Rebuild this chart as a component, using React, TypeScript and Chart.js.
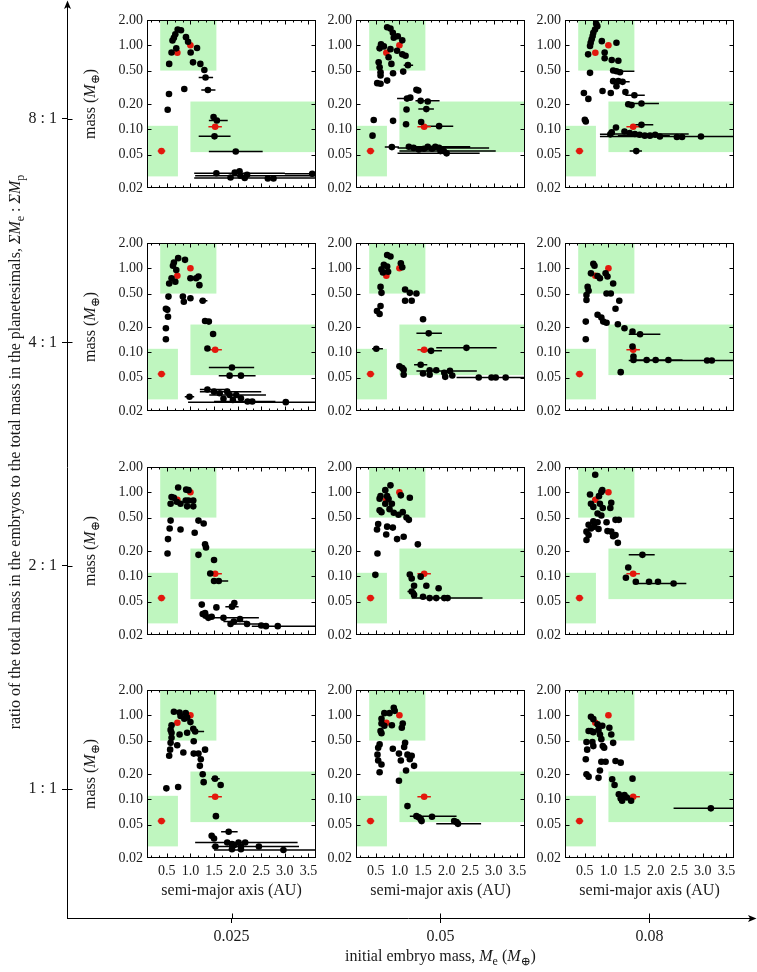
import React, { useEffect, useRef } from "react";
import { Chart, registerables } from "chart.js";

Chart.register(...registerables);

const FONT = "'Liberation Serif', 'Times New Roman', 'DejaVu Serif', serif";
const TEXT = "#1a1a1a";
const GREEN = "#bff6bf";
const RED = "#e3170d";

// ---------- outer axes ----------
const ratioLabels = ["1 : 1", "2 : 1", "4 : 1", "8 : 1"];
const embryoMassLabels = ["0.025", "0.05", "0.08"];

// ---------- panel axes ----------
const massTicks = [0.02, 0.05, 0.1, 0.2, 0.5, 1, 2];
const semiMajorTicks = [0.5, 1, 1.5, 2, 2.5, 3, 3.5];
const semiMajorMin = 0.08;
const semiMajorMax = 3.66;
const massMin = 0.02;
const massMax = 2;

// solar-system planets: [a, mass, perihelion, aphelion]
const solarSystem = [
  [0.387, 0.055, 0.307, 0.467],
  [0.723, 0.815],
  [1.0, 1.0],
  [1.524, 0.107, 1.381, 1.666],
];

// target regions: [aMin, aMax, mMin, mMax]  (null = axis edge)
const regionMercury = [null, 0.735, 0.0275, 0.11];
const regionVenusEarth = [0.36, 1.55, 0.5, 2];
const regionMars = [1.0, null, 0.0535, 0.214];

// simulated planets: [a, mass, aMin, aMax]
const run8_025 = [
  [0.73, 1.54], [0.8, 1.51], [0.68, 1.35], [0.65, 1.23], [0.62, 1.14], [0.906, 1.25], [0.95, 1.1],
  [0.7, 0.92], [0.6, 0.82], [1.005, 0.82], [1.14, 0.93], [0.55, 0.6], [1.055, 0.626], [1.21, 0.6],
  [1.295, 0.508], [1.32, 0.413, 1.175, 1.48], [1.37, 0.294, 1.23, 1.53], [0.87, 0.302], [0.546, 0.263],
  [0.518, 0.171], [1.49, 0.14], [1.56, 0.127, 1.39, 1.79], [1.51, 0.0824, 1.175, 1.85],
  [1.96, 0.0544, 1.39, 2.53], [1.55, 0.03, 1.08, 3.0], [1.85, 0.0267], [1.94, 0.0306], [2.04, 0.0317],
  [2.06, 0.028, 1.1, 3.66], [2.15, 0.0263, 1.08, 3.66], [2.2, 0.0288], [2.64, 0.026], [2.76, 0.026],
  [3.58, 0.0296, 3.0, 3.66],
];
const run8_05 = [
  [0.74, 1.64], [0.81, 1.58], [0.86, 1.41], [0.965, 1.28], [1.06, 1.145], [0.88, 1.23], [0.61, 1.03],
  [0.67, 0.97], [0.58, 0.92], [0.81, 0.9], [0.95, 0.86], [1.06, 0.78], [1.13, 0.75], [0.77, 0.72],
  [0.56, 0.626], [0.83, 0.6], [1.18, 0.58, 1.09, 1.29], [0.58, 0.547], [0.6, 0.477], [0.865, 0.465],
  [1.08, 0.486], [0.6, 0.436], [0.53, 0.354], [0.6, 0.348], [0.74, 0.38], [1.36, 0.296], [1.4, 0.29],
  [1.16, 0.232, 0.95, 1.29], [1.23, 0.238], [1.45, 0.218, 1.34, 1.85], [1.6, 0.214], [1.15, 0.172],
  [1.57, 0.174, 1.4, 1.73], [0.455, 0.129], [0.865, 0.126], [1.46, 0.122], [1.14, 0.115],
  [1.84, 0.109, 1.52, 2.14], [0.43, 0.084], [0.84, 0.0614, 0.69, 0.99], [1.2, 0.062],
  [1.3, 0.06, 0.96, 2.9], [1.41, 0.0574], [1.52, 0.0586], [1.6, 0.0618, 1.2, 2.5], [1.69, 0.0586],
  [1.76, 0.0618], [1.84, 0.06], [1.87, 0.055, 1.0, 3.04], [1.94, 0.055], [2.0, 0.0517, 0.96, 2.7],
];
const run8_08 = [
  [0.74, 1.8], [0.765, 1.69], [0.716, 1.54], [0.68, 1.41], [0.666, 1.29], [0.645, 1.18], [0.624, 1.07],
  [0.61, 0.98], [0.86, 1.12], [1.17, 1.07], [0.57, 0.78], [0.92, 0.82], [0.92, 0.7], [1.07, 0.667],
  [1.21, 0.655], [1.1, 0.5], [1.17, 0.49, 1.1, 1.55], [1.245, 0.477], [0.61, 0.47], [1.1, 0.374],
  [1.21, 0.374], [1.3, 0.367, 1.24, 1.45], [1.17, 0.325], [0.48, 0.27], [0.575, 0.23], [0.875, 0.286],
  [1.05, 0.27], [1.36, 0.278], [1.55, 0.254, 1.36, 1.77], [1.42, 0.199], [1.49, 0.194],
  [1.7, 0.203, 1.45, 2.07], [0.52, 0.124], [0.5, 0.13], [1.7, 0.113, 1.56, 1.95], [1.16, 0.105],
  [1.07, 0.092], [1.04, 0.087, 0.82, 1.13], [1.34, 0.094], [1.45, 0.09], [1.56, 0.088, 1.0, 2.7],
  [1.66, 0.086], [1.77, 0.084, 1.2, 2.3], [1.88, 0.084], [1.99, 0.086], [2.09, 0.082], [2.45, 0.081],
  [2.56, 0.081], [2.96, 0.082, 0.82, 3.66], [1.59, 0.055, 1.45, 1.71],
];
const run4_025 = [
  [0.74, 1.32], [0.885, 1.26], [0.65, 1.17], [0.63, 1.07], [0.7, 0.955], [0.6, 0.76], [0.55, 0.66],
  [0.68, 0.69], [1.0, 0.76], [1.17, 0.8], [1.12, 0.76], [1.19, 0.63], [0.535, 0.46], [0.84, 0.46],
  [0.86, 0.4], [1.0, 0.44], [1.26, 0.41, 1.19, 1.36], [0.48, 0.33], [0.51, 0.32], [0.525, 0.265],
  [1.31, 0.236], [1.39, 0.232], [1.48, 0.165], [0.48, 0.193], [0.48, 0.143], [1.36, 0.111],
  [1.88, 0.066, 1.39, 2.35], [1.83, 0.0527, 1.6, 2.38], [2.07, 0.0527], [0.98, 0.0296, 0.88, 1.08],
  [1.36, 0.036, 1.2, 1.8], [1.5, 0.034, 1.3, 2.2], [1.62, 0.0325], [1.78, 0.034, 1.2, 2.5], [1.83, 0.031],
  [1.97, 0.031, 1.4, 2.6], [2.07, 0.0284], [2.21, 0.026], [2.31, 0.026, 1.5, 2.8],
  [3.02, 0.0255, 0.95, 3.66], [1.7, 0.028], [1.9, 0.027],
];
const run4_05 = [
  [0.74, 1.44], [0.81, 1.38], [0.67, 1.1], [0.74, 1.05], [0.62, 0.97], [0.65, 0.89], [0.76, 0.91],
  [1.03, 1.15], [1.06, 1.03], [0.6, 0.6], [0.62, 0.51], [1.12, 0.56], [1.22, 0.51], [1.36, 0.5],
  [1.12, 0.41], [1.26, 0.41], [0.6, 0.356], [0.525, 0.31], [0.58, 0.286], [1.5, 0.247],
  [1.62, 0.168, 1.36, 1.9], [0.51, 0.11, 0.42, 0.65], [1.67, 0.104, 1.45, 1.9], [2.42, 0.113, 1.78, 3.06],
  [1.0, 0.068], [1.06, 0.065], [1.09, 0.062], [1.09, 0.054], [1.45, 0.071, 1.31, 1.59], [1.5, 0.056],
  [1.64, 0.054], [1.64, 0.061], [1.78, 0.061], [1.95, 0.057], [2.07, 0.06, 1.36, 2.64], [1.97, 0.051],
  [2.12, 0.053], [2.68, 0.05], [2.95, 0.05], [3.04, 0.05], [3.25, 0.05, 2.21, 3.66],
];
const run4_08 = [
  [0.68, 1.13], [0.705, 1.07], [0.63, 0.87], [0.77, 0.81], [0.82, 0.76], [0.94, 0.87], [0.98, 0.8],
  [1.1, 0.66], [0.56, 0.6], [0.58, 0.54], [0.96, 0.5], [1.05, 0.5], [0.535, 0.48], [0.535, 0.42],
  [1.23, 0.41], [1.15, 0.33], [0.77, 0.28], [0.85, 0.26], [0.89, 0.232], [0.96, 0.225], [0.52, 0.232],
  [0.52, 0.143], [1.2, 0.216], [1.34, 0.193], [1.51, 0.176], [1.67, 0.164, 1.43, 2.1], [1.51, 0.117],
  [1.53, 0.089], [1.26, 0.058], [1.53, 0.081], [1.81, 0.081], [2.0, 0.081], [2.27, 0.081, 1.53, 2.57],
  [3.09, 0.08], [3.19, 0.08, 1.43, 3.66],
];
const run2_025 = [
  [0.74, 1.14], [0.91, 1.075], [0.96, 1.06], [0.6, 0.88], [0.65, 0.86], [0.71, 0.77], [0.58, 0.73],
  [0.79, 0.73], [0.9, 0.8], [0.96, 0.8], [1.06, 0.8], [1.06, 0.68], [0.93, 0.68], [0.58, 0.46],
  [0.56, 0.37], [0.79, 0.36], [0.525, 0.277], [0.515, 0.187], [1.17, 0.46], [1.28, 0.425], [1.09, 0.33],
  [1.31, 0.24], [1.33, 0.22], [1.17, 0.18], [1.5, 0.156], [1.42, 0.108], [1.6, 0.088, 1.47, 1.8],
  [1.5, 0.088], [1.24, 0.046], [1.31, 0.0366], [1.26, 0.0355], [1.55, 0.0426], [1.88, 0.0435, 1.74, 2.02],
  [1.93, 0.048], [1.32, 0.034], [1.38, 0.032], [1.45, 0.033], [1.7, 0.032, 1.5, 2.45],
  [1.92, 0.029, 1.7, 2.2], [2.05, 0.031], [1.85, 0.027], [2.2, 0.027, 1.8, 2.6], [2.5, 0.026],
  [2.85, 0.0255, 2.3, 3.66], [2.6, 0.0255],
];
const run2_05 = [
  [0.81, 1.21], [0.7, 1.06], [0.6, 0.9], [0.58, 0.84], [0.74, 0.9], [0.77, 0.83], [0.7, 0.73], [0.84, 0.73],
  [1.03, 0.92], [1.22, 0.86], [0.58, 0.61], [0.62, 0.58], [0.79, 0.63], [0.88, 0.57], [0.98, 0.54],
  [1.07, 0.58], [1.15, 0.5], [1.2, 0.47], [0.55, 0.42], [0.525, 0.36], [0.74, 0.39], [0.86, 0.38],
  [0.72, 0.315], [0.95, 0.277], [1.09, 0.295], [1.39, 0.24], [0.535, 0.187], [0.49, 0.104], [1.22, 0.105],
  [1.26, 0.094], [1.45, 0.099], [1.31, 0.077], [1.57, 0.077], [1.83, 0.072], [1.26, 0.066, 1.17, 1.35],
  [1.31, 0.06], [1.5, 0.057], [1.64, 0.055], [1.78, 0.055], [1.95, 0.055], [2.02, 0.055, 1.26, 2.76],
];
const run2_08 = [
  [0.72, 1.62], [0.61, 0.94], [0.87, 1.06], [0.85, 1.01], [0.8, 0.9], [0.63, 0.73], [0.68, 0.67],
  [0.82, 0.73], [0.88, 0.65], [1.06, 0.75], [0.77, 0.56], [0.85, 0.53], [1.04, 0.65], [1.15, 0.47],
  [1.22, 0.47], [0.68, 0.45], [0.77, 0.44], [0.58, 0.41], [0.63, 0.37], [0.7, 0.39], [0.535, 0.34],
  [0.58, 0.31], [0.535, 0.27], [0.79, 0.365], [0.96, 0.44], [0.98, 0.345], [1.06, 0.34], [1.1, 0.3],
  [1.15, 0.31], [1.2, 0.25], [1.72, 0.18, 1.43, 1.98], [1.42, 0.127], [1.37, 0.096], [1.58, 0.086],
  [1.86, 0.086], [2.05, 0.086], [2.38, 0.082, 1.53, 2.65],
];
const run1_025 = [
  [0.65, 1.1], [0.77, 1.08], [0.79, 0.98], [0.9, 1.06], [0.93, 0.94], [0.87, 0.91], [1.0, 0.83],
  [0.6, 0.76], [0.58, 0.67], [0.6, 0.62], [0.77, 0.59], [0.93, 0.62], [1.06, 0.69], [1.1, 0.64, 1.03, 1.29],
  [0.72, 0.44], [0.6, 0.54], [0.58, 0.47], [0.57, 0.39], [0.55, 0.33], [0.85, 0.36], [1.07, 0.49],
  [1.07, 0.35], [1.17, 0.35], [1.31, 0.39], [1.22, 0.3], [1.2, 0.25], [1.26, 0.199], [1.28, 0.16],
  [1.52, 0.176, 1.44, 1.62], [1.64, 0.148], [0.49, 0.135], [0.74, 0.14], [1.54, 0.063],
  [1.81, 0.041, 1.65, 2.0], [1.45, 0.0367], [1.5, 0.0341], [1.53, 0.0274], [1.78, 0.0306, 1.1, 3.27],
  [1.88, 0.0293], [1.93, 0.0285], [2.02, 0.0306], [2.07, 0.0274], [2.16, 0.0306], [1.88, 0.0254],
  [2.07, 0.0254], [2.45, 0.0274, 1.45, 3.3], [2.97, 0.0249, 1.5, 3.66],
];
const run1_05 = [
  [0.88, 1.23], [0.68, 1.06], [0.79, 1.06], [0.9, 1.13], [0.62, 0.91], [0.62, 0.8], [0.68, 0.75],
  [0.84, 0.76], [1.07, 0.8], [1.05, 0.71], [0.6, 0.65], [0.62, 0.61], [1.12, 0.47], [1.1, 0.42],
  [0.58, 0.45], [0.55, 0.41], [0.86, 0.4], [0.99, 0.35], [0.535, 0.34], [0.55, 0.29], [0.62, 0.26],
  [0.58, 0.21], [1.03, 0.29], [1.17, 0.34], [1.26, 0.33], [1.22, 0.3], [1.31, 0.25], [1.14, 0.22],
  [0.99, 0.166], [1.17, 0.083], [1.36, 0.063, 1.22, 2.21], [1.41, 0.061], [1.45, 0.058], [1.47, 0.055],
  [1.69, 0.062], [2.16, 0.055], [2.21, 0.0535], [2.24, 0.051, 1.78, 2.73],
];
const run1_08 = [
  [0.63, 0.96], [0.68, 0.9], [0.77, 0.78], [0.87, 0.75], [0.58, 0.65], [0.63, 0.65], [0.68, 0.63],
  [0.79, 0.67], [0.82, 0.59], [1.02, 0.71], [1.06, 0.59], [0.535, 0.48], [0.55, 0.39], [0.66, 0.48],
  [0.68, 0.43], [0.88, 0.43], [0.91, 0.41], [1.1, 0.47], [0.85, 0.52], [0.52, 0.3], [0.535, 0.199],
  [0.58, 0.186], [0.79, 0.18], [0.82, 0.22], [0.85, 0.28], [0.94, 0.28], [1.15, 0.286], [1.26, 0.273],
  [1.08, 0.173], [1.13, 0.148], [1.22, 0.115], [1.26, 0.102], [1.29, 0.096], [1.34, 0.112], [1.39, 0.105],
  [1.51, 0.176], [1.48, 0.096], [3.17, 0.078, 2.38, 3.66],
];

// rows top->bottom: 8:1, 4:1, 2:1, 1:1 ; cols: 0.025, 0.05, 0.08
const panelRuns = [
  [run8_025, run8_05, run8_08],
  [run4_025, run4_05, run4_08],
  [run2_025, run2_05, run2_08],
  [run1_025, run1_05, run1_08],
];

// ---------- layout (pixels) ----------
const PLOT_X = [147, 356, 565];
const PLOT_Y = [20, 243, 467, 690];
const PLOT_W = 169;
const PLOT_H = 168;
const OUTER_LEFT = 67;
const OUTER_BOTTOM = 918;
const OUTER_TOP = 16;
const OUTER_RIGHT = 749;
const POINT_R = 3.3;

type Seg = { t: string; it?: boolean; sub?: boolean };

function drawRich(ctx: CanvasRenderingContext2D, segs: Seg[], cx: number, cy: number, size: number, rotate: boolean) {
  ctx.save();
  ctx.translate(cx, cy);
  if (rotate) ctx.rotate(-Math.PI / 2);
  const fontFor = (s: Seg) => `${s.it ? "italic " : ""}${s.sub ? Math.round(size * 0.72) : size}px ${FONT}`;
  let total = 0;
  const widths = segs.map((s) => {
    ctx.font = fontFor(s);
    const w = ctx.measureText(s.t).width;
    total += w;
    return w;
  });
  let x = -total / 2;
  ctx.textBaseline = "middle";
  ctx.textAlign = "left";
  ctx.fillStyle = TEXT;
  segs.forEach((s, i) => {
    ctx.font = fontFor(s);
    ctx.fillText(s.t, x, s.sub ? size * 0.3 : 0);
    x += widths[i];
  });
  ctx.restore();
}

function makePanelPlugin(row: number, col: number) {
  return {
    id: "panelDecor",
    beforeDatasetsDraw(chart: any) {
      const { ctx, chartArea: ca, scales } = chart;
      const xs = scales.x;
      const ys = scales.y;
      ctx.save();
      ctx.beginPath();
      ctx.rect(ca.left, ca.top, ca.right - ca.left, ca.bottom - ca.top);
      ctx.clip();
      ctx.fillStyle = GREEN;
      for (const r of [regionMercury, regionVenusEarth, regionMars]) {
        const x0 = r[0] == null ? ca.left : xs.getPixelForValue(r[0]);
        const x1 = r[1] == null ? ca.right : xs.getPixelForValue(r[1]);
        const y0 = ys.getPixelForValue(r[3] as number);
        const y1 = ys.getPixelForValue(r[2] as number);
        ctx.fillRect(x0, y0, x1 - x0, y1 - y0);
      }
      chart.data.datasets.forEach((ds: any) => {
        ctx.strokeStyle = ds.errColor;
        ctx.lineWidth = 1.5;
        ctx.beginPath();
        ds.data.forEach((p: any) => {
          if (p.lo == null) return;
          const py = ys.getPixelForValue(p.y);
          ctx.moveTo(xs.getPixelForValue(p.lo), py);
          ctx.lineTo(xs.getPixelForValue(p.hi), py);
        });
        ctx.stroke();
      });
      ctx.restore();
    },
    afterDraw(chart: any) {
      const { ctx, chartArea: ca, scales } = chart;
      const xs = scales.x;
      const ys = scales.y;
      ctx.save();
      ctx.strokeStyle = "#000";
      ctx.lineWidth = 1;
      const L = Math.round(ca.left) + 0.5;
      const R = Math.round(ca.right) - 0.5;
      const T = Math.round(ca.top) + 0.5;
      const B = Math.round(ca.bottom) - 0.5;
      ctx.strokeRect(L, T, R - L, B - T);
      ctx.beginPath();
      for (const v of massTicks) {
        const py = Math.round(ys.getPixelForValue(v)) + 0.5;
        if (py <= T + 1 || py >= B - 1) continue;
        ctx.moveTo(L, py);
        ctx.lineTo(L + 4, py);
        ctx.moveTo(R, py);
        ctx.lineTo(R - 4, py);
      }
      for (const v of semiMajorTicks) {
        const px = Math.round(xs.getPixelForValue(v)) + 0.5;
        ctx.moveTo(px, B);
        ctx.lineTo(px, B - 4);
        ctx.moveTo(px, T);
        ctx.lineTo(px, T + 4);
        for (const k of [-2, -1, 1, 2]) {
          const mv = v + k / 6;
          if (mv <= semiMajorMin || mv >= semiMajorMax) continue;
          if (k < 0 && v !== semiMajorTicks[0]) continue;
          const mp = Math.round(xs.getPixelForValue(mv)) + 0.5;
          ctx.moveTo(mp, B);
          ctx.lineTo(mp, B - 2);
          ctx.moveTo(mp, T);
          ctx.lineTo(mp, T + 2);
        }
      }
      ctx.stroke();
      ctx.restore();
      if (col === 0) {
        drawRich(
          ctx,
          [{ t: "mass (" }, { t: "M", it: true }, { t: "⊕", sub: true }, { t: ")" }],
          ca.left - 56,
          (ca.top + ca.bottom) / 2,
          16,
          true
        );
      }
      if (row === 3) {
        drawRich(ctx, [{ t: "semi-major axis (AU)" }], (ca.left + ca.right) / 2, ca.bottom + 33, 16, false);
      }
    },
  };
}

function Panel({ row, col }: { row: number; col: number }) {
  const ref = useRef<HTMLCanvasElement>(null);
  const isBottom = row === 3;
  const padL = 70;
  const padT = 14;
  const padR = 8;
  const xh = isBottom ? 56 : 14;
  const w = padL + PLOT_W + padR;
  const h = padT + PLOT_H + xh;
  useEffect(() => {
    const run = panelRuns[row][col];
    const chart = new Chart(ref.current as HTMLCanvasElement, {
      type: "scatter",
      data: {
        datasets: [
          {
            data: run.map((p) => ({ x: p[0], y: p[1], lo: p[2], hi: p[3] })),
            backgroundColor: "#000",
            borderWidth: 0,
            pointRadius: POINT_R,
            pointHoverRadius: POINT_R,
            errColor: "#000",
          } as any,
          {
            data: solarSystem.map((p) => ({ x: p[0], y: p[1], lo: p[2], hi: p[3] })),
            backgroundColor: RED,
            borderWidth: 0,
            pointRadius: POINT_R,
            pointHoverRadius: POINT_R,
            errColor: RED,
          } as any,
        ],
      },
      options: {
        animation: false,
        responsive: false,
        devicePixelRatio: 1,
        events: [],
        layout: { padding: { left: 0, top: padT, right: padR, bottom: 0 } },
        plugins: { legend: { display: false }, tooltip: { enabled: false } },
        scales: {
          x: {
            type: "linear",
            min: semiMajorMin,
            max: semiMajorMax,
            afterBuildTicks: (s: any) => {
              s.ticks = semiMajorTicks.map((v) => ({ value: v }));
            },
            afterFit: (s: any) => {
              s.height = xh;
            },
            grid: { display: false, drawTicks: false },
            border: { display: false },
            ticks: {
              display: isBottom,
              padding: 5,
              maxRotation: 0,
              autoSkip: false,
              color: TEXT,
              font: { family: FONT, size: 14 },
              callback: (v: any) => Number(v).toFixed(1),
            },
          },
          y: {
            type: "logarithmic",
            min: massMin,
            max: massMax,
            afterBuildTicks: (s: any) => {
              s.ticks = massTicks.map((v) => ({ value: v }));
            },
            afterFit: (s: any) => {
              s.width = padL;
            },
            grid: { display: false, drawTicks: false },
            border: { display: false },
            ticks: {
              padding: 4,
              autoSkip: false,
              color: TEXT,
              font: { family: FONT, size: 14 },
              callback: (v: any) => Number(v).toFixed(2),
            },
          },
        },
      } as any,
      plugins: [makePanelPlugin(row, col)],
    });
    return () => chart.destroy();
  }, [row, col]);
  return (
    <canvas
      ref={ref}
      width={w}
      height={h}
      style={{ position: "absolute", left: PLOT_X[col] - padL, top: PLOT_Y[row] - padT, width: w, height: h }}
    />
  );
}

function OuterFrame() {
  const ref = useRef<HTMLCanvasElement>(null);
  useEffect(() => {
    const rowSpacing = (PLOT_Y[3] - PLOT_Y[0]) / 3;
    const rowTick0 = PLOT_Y[3] + 99; // pixel of "1 : 1"
    const yMin = -(OUTER_BOTTOM - rowTick0) / rowSpacing;
    const yMax = (rowTick0 - OUTER_TOP) / rowSpacing;
    const colSpacing = (PLOT_X[2] - PLOT_X[0]) / 2;
    const colTick0 = PLOT_X[0] + PLOT_W / 2;
    const xMin = (OUTER_LEFT - colTick0) / colSpacing;
    const xMax = (OUTER_RIGHT - colTick0) / colSpacing;
    const plugin = {
      id: "outerDecor",
      afterDraw(chart: any) {
        const { ctx, scales } = chart;
        const ax = OUTER_LEFT + 0.5;
        const ay = OUTER_BOTTOM + 0.5;
        ctx.save();
        ctx.strokeStyle = "#000";
        ctx.fillStyle = "#000";
        ctx.lineWidth = 1;
        ctx.beginPath();
        ctx.moveTo(ax, OUTER_TOP + 1);
        ctx.lineTo(ax, 4);
        ctx.moveTo(OUTER_RIGHT - 1, ay);
        ctx.lineTo(753, ay);
        scales.y.ticks.forEach((t: any) => {
          const py = Math.round(scales.y.getPixelForValue(t.value)) + 0.5;
          ctx.moveTo(ax, py);
          ctx.lineTo(ax + 5, py);
        });
        scales.x.ticks.forEach((t: any) => {
          const px = Math.round(scales.x.getPixelForValue(t.value)) + 0.5;
          ctx.moveTo(px, ay);
          ctx.lineTo(px, ay - 5);
        });
        ctx.stroke();
        ctx.beginPath();
        ctx.moveTo(ax, 0.5);
        ctx.lineTo(ax - 3.5, 9);
        ctx.lineTo(ax, 7);
        ctx.lineTo(ax + 3.5, 9);
        ctx.closePath();
        ctx.fill();
        ctx.beginPath();
        ctx.moveTo(756.5, ay);
        ctx.lineTo(748, ay - 3.5);
        ctx.lineTo(750, ay);
        ctx.lineTo(748, ay + 3.5);
        ctx.closePath();
        ctx.fill();
        ctx.restore();
        drawRich(
          ctx,
          [
            { t: "ratio of the total mass in the embryos to the total mass in the planetesimals, " },
            { t: "ΣM", it: true },
            { t: "e", sub: true },
            { t: " : " },
            { t: "ΣM", it: true },
            { t: "p", sub: true },
          ],
          16,
          452,
          16,
          true
        );
        drawRich(
          ctx,
          [
            { t: "initial embryo mass, " },
            { t: "M", it: true },
            { t: "e", sub: true },
            { t: " (" },
            { t: "M", it: true },
            { t: "⊕", sub: true },
            { t: ")" },
          ],
          PLOT_X[1] + PLOT_W / 2,
          957,
          16,
          false
        );
      },
    };
    const chart = new Chart(ref.current as HTMLCanvasElement, {
      type: "scatter",
      data: { datasets: [] },
      options: {
        animation: false,
        responsive: false,
        devicePixelRatio: 1,
        events: [],
        layout: { padding: { left: 0, top: OUTER_TOP, right: 757 - OUTER_RIGHT, bottom: 0 } },
        plugins: { legend: { display: false }, tooltip: { enabled: false } },
        scales: {
          x: {
            type: "linear",
            min: xMin,
            max: xMax,
            afterBuildTicks: (s: any) => {
              s.ticks = embryoMassLabels.map((_, i) => ({ value: i }));
            },
            afterFit: (s: any) => {
              s.height = 972 - OUTER_BOTTOM;
            },
            grid: { display: true, drawOnChartArea: false, drawTicks: true, tickLength: 5, color: "#000" },
            border: { display: true, color: "#000", width: 1 },
            ticks: {
              padding: 4,
              maxRotation: 0,
              autoSkip: false,
              color: TEXT,
              font: { family: FONT, size: 16 },
              callback: (v: any) => embryoMassLabels[Math.round(Number(v))],
            },
          },
          y: {
            type: "linear",
            min: yMin,
            max: yMax,
            afterBuildTicks: (s: any) => {
              s.ticks = ratioLabels.map((_, i) => ({ value: i }));
            },
            afterFit: (s: any) => {
              s.width = OUTER_LEFT;
            },
            grid: { display: true, drawOnChartArea: false, drawTicks: true, tickLength: 5, color: "#000" },
            border: { display: true, color: "#000", width: 1 },
            ticks: {
              padding: 5,
              autoSkip: false,
              color: TEXT,
              font: { family: FONT, size: 16 },
              callback: (v: any) => ratioLabels[Math.round(Number(v))],
            },
          },
        },
      } as any,
      plugins: [plugin],
    });
    return () => chart.destroy();
  }, []);
  return (
    <canvas
      ref={ref}
      width={757}
      height={972}
      style={{ position: "absolute", left: 0, top: 0, width: 757, height: 972 }}
    />
  );
}

export default function App() {
  const cells: any[] = [];
  for (let r = 0; r < 4; r++) {
    for (let c = 0; c < 3; c++) {
      cells.push(<Panel key={`${r}-${c}`} row={r} col={c} />);
    }
  }
  return (
    <div style={{ position: "absolute", left: 0, top: 0, width: 757, height: 972, background: "#fff" }}>
      <OuterFrame />
      {cells}
    </div>
  );
}
